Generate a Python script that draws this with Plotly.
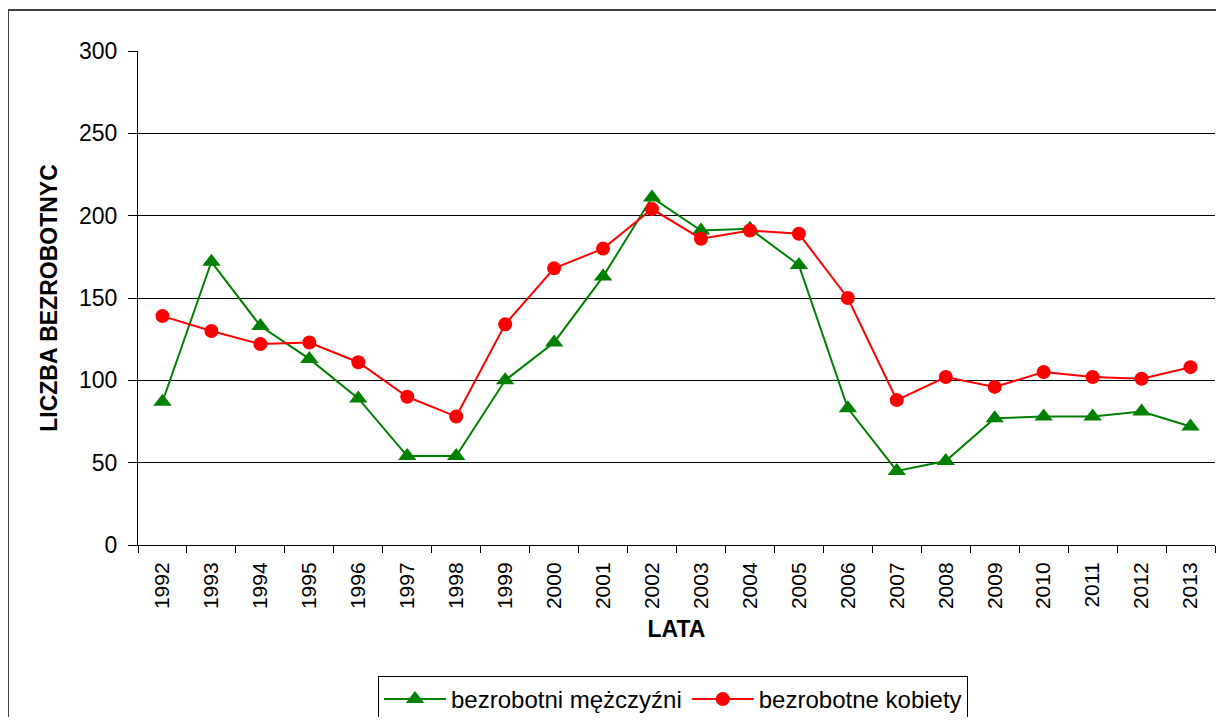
import plotly.graph_objects as go

years = [str(y) for y in range(1992, 2014)]
men = [87, 172, 133, 113, 89, 54, 54, 100, 123, 163, 211, 191, 192, 170, 83, 45, 51, 77, 78, 78, 81, 72]
women = [139, 130, 122, 123, 111, 90, 78, 134, 168, 180, 204, 186, 191, 189, 150, 88, 102, 96, 105, 102, 101, 108]

FONT = "Liberation Sans, Arial, sans-serif"

fig = go.Figure()
fig.add_trace(go.Scatter(
    x=years, y=men, name="bezrobotni mężczyźni", mode="lines+markers",
    line=dict(color="#008000", width=2),
    marker=dict(symbol="triangle-up", size=16, color="#008000"),
))
fig.add_trace(go.Scatter(
    x=years, y=women, name="bezrobotne kobiety", mode="lines+markers",
    line=dict(color="#FF0000", width=2),
    marker=dict(symbol="circle", size=14, color="#FF0000"),
))

# page body has an 8px margin, so the figure is drawn 8px in and 16px smaller
OFF = 8
FW, FH = 1224 - 2 * OFF, 725 - 2 * OFF
# plot area in page pixels: x 138..1215, y 51..545
L, R, T, B = 138 - OFF, 1215 - OFF, 51 - OFF, 545 - OFF
W, H = R - L, B - T


def px_x(x):
    return (x - OFF - L) / W


def px_y(y):
    return (B - (y - OFF)) / H


fig.update_layout(
    width=FW, height=FH,
    margin=dict(l=L, r=FW - R, t=T, b=FH - B, autoexpand=False),
    paper_bgcolor="white", plot_bgcolor="white",
    font=dict(family=FONT, size=22, color="black"),
    showlegend=True,
    legend=dict(
        orientation="h", x=px_x(673), xanchor="center", y=px_y(676), yanchor="top",
        bordercolor="black", borderwidth=1, font=dict(size=24),
        tracegroupgap=0, itemwidth=62,
    ),
    shapes=[
        dict(type="line", xref="paper", yref="paper",
             x0=px_x(8), x1=px_x(8), y0=px_y(730), y1=px_y(10),
             line=dict(color="#404040", width=2)),
        dict(type="line", xref="paper", yref="paper",
             x0=px_x(8), x1=px_x(1230), y0=px_y(10), y1=px_y(10),
             line=dict(color="#404040", width=2)),
    ],
)

fig.update_xaxes(
    type="category", range=[-0.5, len(years) - 0.5],
    tickson="boundaries", ticks="outside", ticklen=7,
    tickcolor="black", showline=True, linecolor="black", linewidth=1,
    tickangle=-90, tickfont=dict(size=21), showgrid=False, ticklabelstandoff=8,
    title=dict(text="<b>LATA</b>", font=dict(size=23), standoff=12),
)
fig.update_yaxes(
    range=[0, 300], dtick=50, ticks="outside", ticklen=9, tickcolor="black",
    showline=True, linecolor="black", linewidth=1,
    showgrid=True, gridcolor="black", gridwidth=1, zeroline=False,
    tickfont=dict(size=23), ticklabelstandoff=6,
    title=dict(text="<b>LICZBA BEZROBOTNYC</b>", font=dict(size=23), standoff=14),
)

fig.write_html("out.html")
